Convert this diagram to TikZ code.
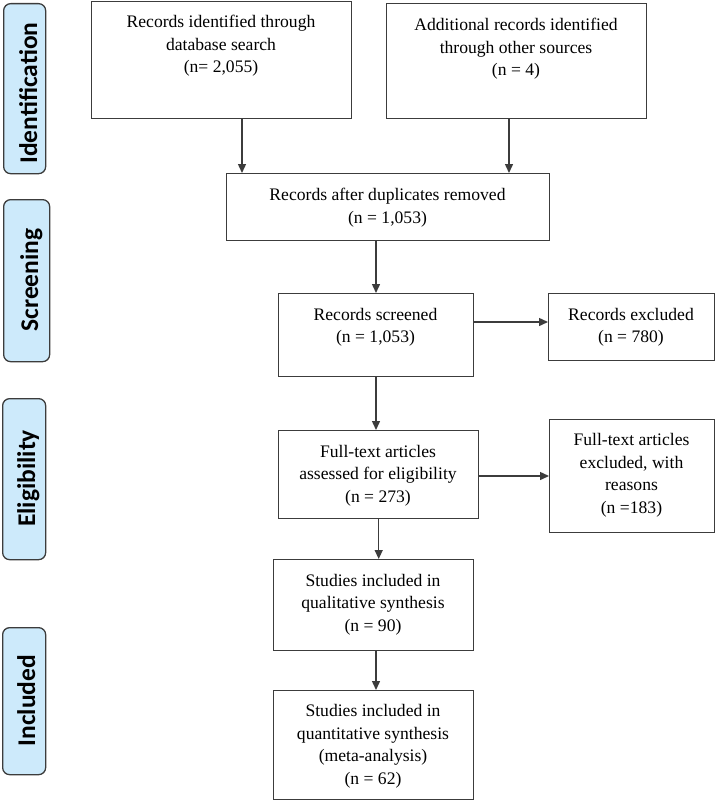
\documentclass[tikz,border=0pt]{standalone}
\usepackage{fontspec}
\setmainfont{Liberation Serif}
\newfontfamily\tabfont{Carlito}
\usetikzlibrary{arrows.meta}
\definecolor{tabblue}{RGB}{205,234,251}
\definecolor{linegray}{RGB}{60,60,60}
\begin{document}
\begin{tikzpicture}[x=1pt,y=-1pt,
  box/.style={draw=linegray, line width=1.4pt, inner sep=0pt, anchor=north west},
  txt/.style={align=center, font=\fontsize{17.6}{22.5}\selectfont, inner sep=0pt},
  tab/.style={draw=linegray, fill=tabblue, rounded corners=7pt, line width=1.3pt, inner sep=0pt, anchor=north west},
  tablabel/.style={rotate=90, anchor=base, inner sep=0pt, font=\tabfont\bfseries\fontsize{25.5}{30}\selectfont},
  arr/.style={draw=linegray, line width=1.4pt, -{Triangle[length=9pt,width=8pt]}}]
\useasboundingbox (0,0) rectangle (715,800);

% side tabs
\node[tab, minimum width=42pt, minimum height=170pt] (t1) at (3,3) {};
\node[tablabel] (l1) at (37,93) {Identification};
\node[tab, minimum width=46pt, minimum height=162pt] (t2) at (3,199) {};
\node[tablabel] (l2) at (38,280) {Screening};
\node[tab, minimum width=43pt, minimum height=161pt] (t3) at (2,398) {};
\node[tablabel] (l3) at (35,478.5) {Eligibility};
\node[tab, minimum width=43pt, minimum height=147pt] (t4) at (2,627) {};
\node[tablabel] (l4) at (35,700.5) {Included};

% boxes
\node[box, minimum width=260pt, minimum height=117pt] (b1) at (91,1) {};
\node[txt] (x1) at (221,46) {Records identified through\\database search\\(n= 2,055)};
\node[box, minimum width=260pt, minimum height=115pt] (b2) at (386,3) {};
\node[txt] (x2) at (516,49) {Additional records identified\\through other sources\\(n = 4)};
\node[box, minimum width=323pt, minimum height=67pt] (b3) at (226,173) {};
\node[txt] (x3) at (387.5,207.5) {Records after duplicates removed\\(n = 1,053)};
\node[box, minimum width=195pt, minimum height=83pt] (b4) at (278,293) {};
\node[txt] (x4) at (375.5,327.5) {Records screened\\(n = 1,053)};
\node[box, minimum width=166pt, minimum height=67pt] (b5) at (548,293) {};
\node[txt] (x5) at (631,327.5) {Records excluded\\(n = 780)};
\node[box, minimum width=200pt, minimum height=88pt] (b6) at (278,430) {};
\node[txt] (x6) at (378,475.5) {Full-text articles\\assessed for eligibility\\(n = 273)};
\node[box, minimum width=165pt, minimum height=113pt] (b7) at (549,419) {};
\node[txt] (x7) at (631.5,475.5) {Full-text articles\\excluded, with\\reasons\\(n =183)};
\node[box, minimum width=200pt, minimum height=91pt] (b8) at (273,559) {};
\node[txt] (x8) at (373,604.5) {Studies included in\\qualitative synthesis\\(n = 90)};
\node[box, minimum width=200pt, minimum height=109pt] (b9) at (273,690) {};
\node[txt] (x9) at (373,746.5) {Studies included in\\quantitative synthesis\\(meta-analysis)\\(n = 62)};

% connector guides
\coordinate (c1) at (242,0);
\coordinate (c2) at (509,0);
\coordinate (c3) at (376,0);
\coordinate (c4) at (0,322);
\coordinate (c6) at (0,476);

% connectors
\draw[arr] (b1.south -| c1) -- (b3.north -| c1);
\draw[arr] (b2.south -| c2) -- (b3.north -| c2);
\draw[arr] (b3.south -| c3) -- (b4.north -| c3);
\draw[arr] (b4.east |- c4) -- (b5.west |- c4);
\draw[arr] (b4.south -| c3) -- (b6.north -| c3);
\draw[arr] (b6.east |- c6) -- (b7.west |- c6);
\draw[arr] (b6.south) -- (b8.north -| b6.south);
\draw[arr] (b8.south -| c3) -- (b9.north -| c3);
\end{tikzpicture}
\end{document}
